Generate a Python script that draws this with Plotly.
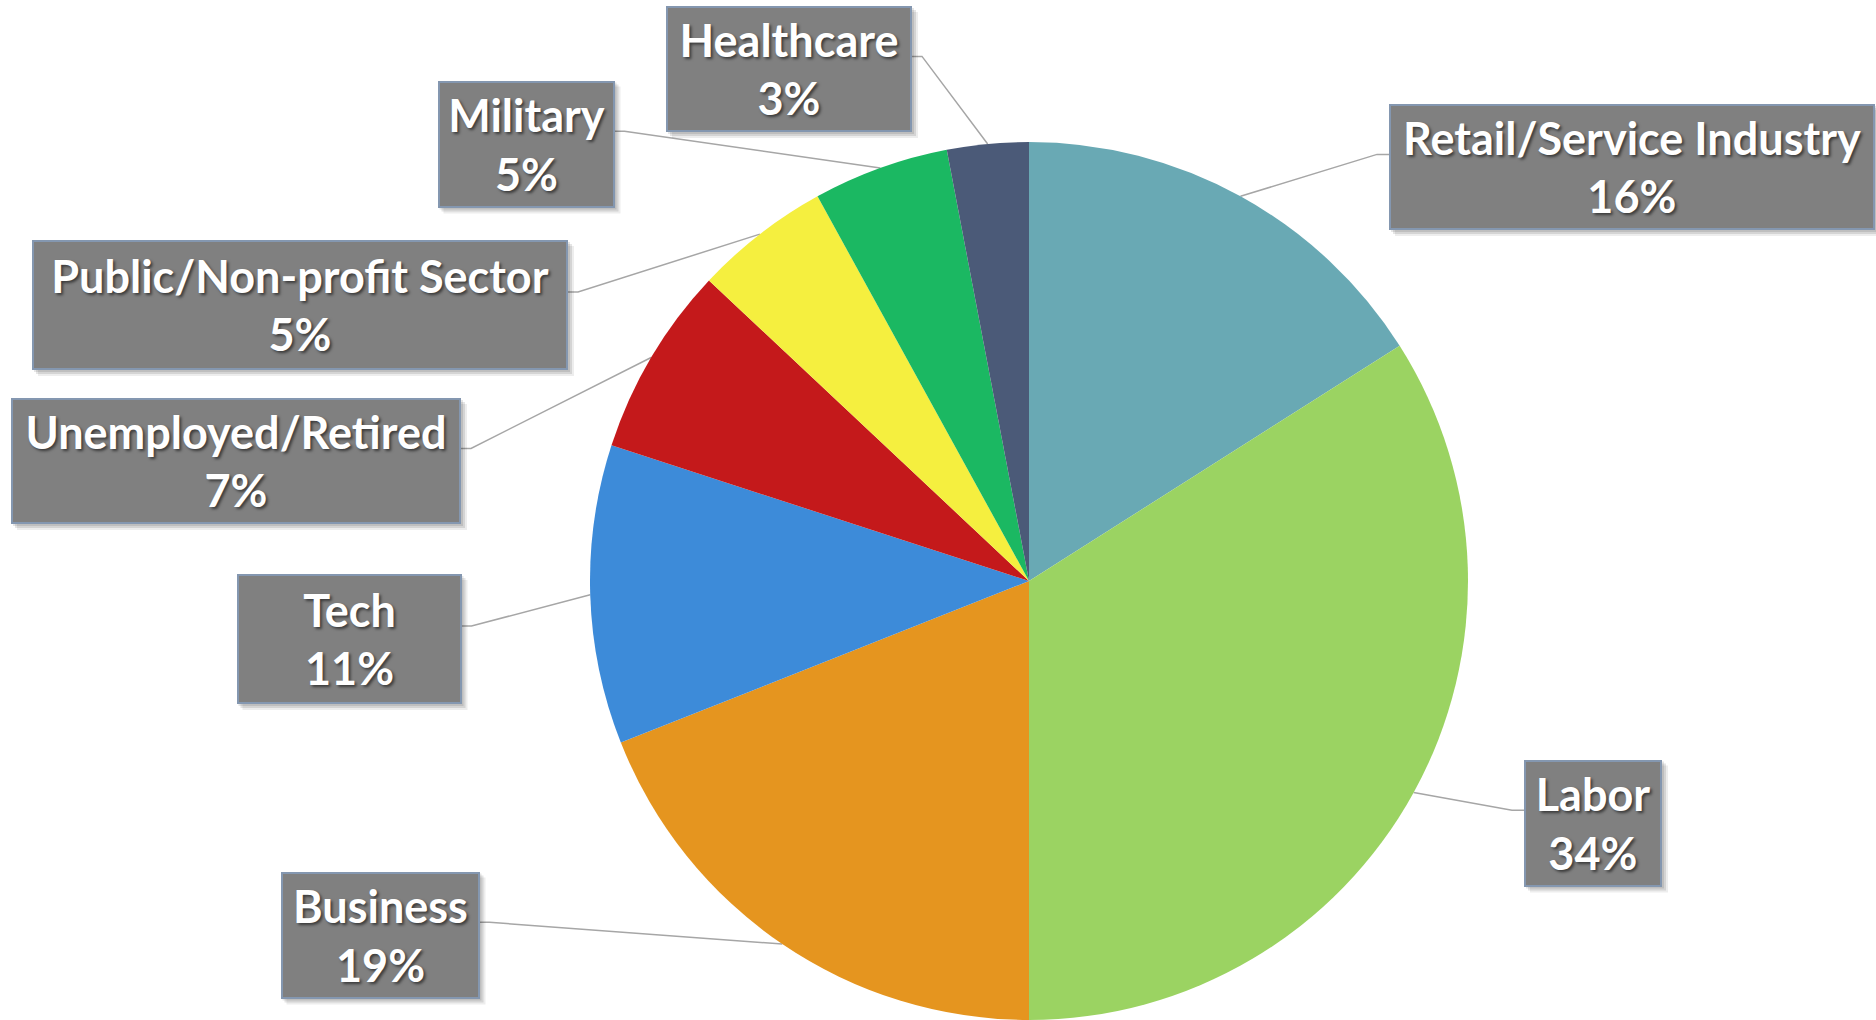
import math
import plotly.graph_objects as go

# Share of respondents by occupation sector
sectors = ["Retail/Service Industry", "Labor", "Business", "Tech",
           "Unemployed/Retired", "Public/Non-profit Sector", "Military", "Healthcare"]
shares = [16, 34, 19, 11, 7, 5, 5, 3]
colors = ["#69a9b4", "#9bd362", "#e5951f", "#3d8bd9",
          "#c4191b", "#f5ef3f", "#1bb862", "#4b5a78"]

# Label box placement in page pixels: centre x, centre y, width, height
label_boxes = {
    "Retail/Service Industry": (1632, 167, 486, 126),
    "Labor": (1593, 823, 138, 127),
    "Business": (380, 935, 199, 127),
    "Tech": (349, 639, 225, 130),
    "Unemployed/Retired": (236, 461, 450, 126),
    "Public/Non-profit Sector": (300, 305, 536, 130),
    "Military": (526, 144, 177, 127),
    "Healthcare": (789, 69, 246, 126),
}

W, H = 1876, 1020
pie_cx, pie_r = 1029, 439
pie_cy = H - pie_r  # pie domain sits on the bottom edge

fig = go.Figure()
fig.add_trace(go.Pie(
    labels=sectors, values=shares, sort=False, direction="clockwise", rotation=0,
    marker=dict(colors=colors, line=dict(width=0)),
    textinfo="none", hoverinfo="label+percent", showlegend=False,
    domain=dict(x=[(pie_cx - pie_r) / W, (pie_cx + pie_r) / W], y=[0, 2 * pie_r / H]),
))

total = sum(shares)
cum = 0
annotations = []
shapes = []
for name, v in zip(sectors, shares):
    mid = (cum + v / 2) / total * 2 * math.pi
    cum += v
    ex = pie_cx + pie_r * math.sin(mid)
    ey = pie_cy - pie_r * math.cos(mid)
    bx, by, bw, bh = label_boxes[name]
    attach_y = by - bh / 2 + 0.4 * bh
    if bx > ex:
        side_x = bx - bw / 2
        elbow_x = side_x - 12
    else:
        side_x = bx + bw / 2
        elbow_x = side_x + 10
    fig.add_trace(go.Scatter(
        x=[side_x, elbow_x, ex], y=[attach_y, attach_y, ey], mode="lines",
        line=dict(color="#a6a6a6", width=1.5), hoverinfo="skip", showlegend=False,
    ))
    # soft drop shadow under each label box
    for off, alpha in ((6, 0.07), (4, 0.10), (2, 0.10)):
        shapes.append(dict(
            type="rect", xref="x", yref="y",
            x0=bx - bw / 2 + off, x1=bx + bw / 2 + off,
            y0=by - bh / 2 + off, y1=by + bh / 2 + off,
            line=dict(width=0), fillcolor=f"rgba(0,0,0,{alpha})",
        ))
    annotations.append(dict(
        x=bx, y=by, xref="x", yref="y",
        text=f"{name}<br>{v / total * 100:.0f}%", showarrow=False,
        width=bw - 4, height=bh - 4, borderpad=0, borderwidth=2,
        bgcolor="#808080", bordercolor="#8497b0",
        align="center", valign="middle",
        font=dict(family="Lato", size=45, color="white", weight="bold",
                  shadow="2px 2px 3px rgba(0,0,0,0.55)"),
    ))

fig.update_layout(
    width=W, height=H, margin=dict(l=0, r=0, t=0, b=0),
    paper_bgcolor="white", plot_bgcolor="rgba(0,0,0,0)",
    xaxis=dict(range=[0, W], visible=False, fixedrange=True),
    yaxis=dict(range=[H, 0], visible=False, fixedrange=True),
    shapes=shapes, annotations=annotations,
)

fig.write_html("out.html")
